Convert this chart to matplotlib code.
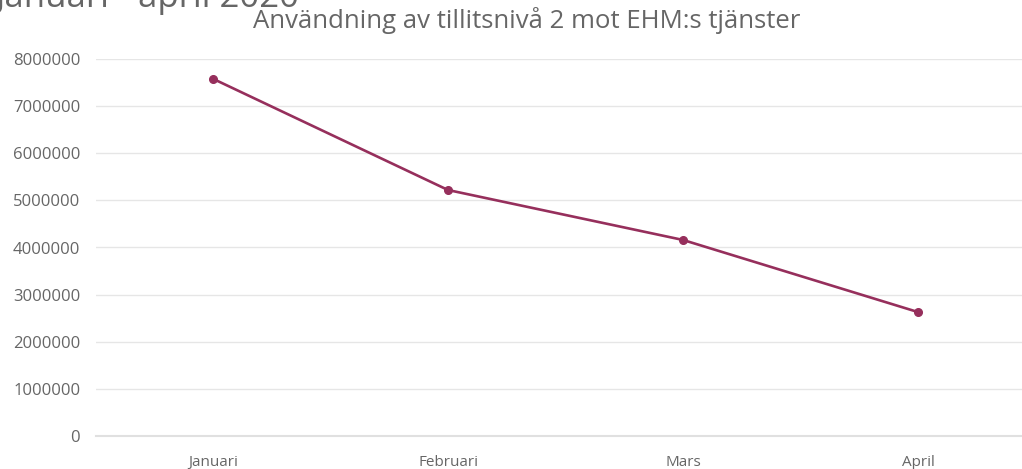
import matplotlib
matplotlib.use("Agg")
import matplotlib.pyplot as plt

months = ["Januari", "Februari", "Mars", "April"]
values = [7580000, 5220000, 4160000, 2630000]
y_ticks = [0, 1000000, 2000000, 3000000, 4000000, 5000000, 6000000, 7000000, 8000000]

plt.rcParams['font.family'] = ['Open Sans', 'DejaVu Sans']

fig = plt.figure(figsize=(10.22, 4.69), dpi=100)
ax = fig.add_axes([95.5/1022, 1-436/469, 940/1022, 377/469])

x = list(range(len(months)))
ax.plot(x, values, color="#962f5c", linewidth=1.9, marker="o", markersize=5.5, zorder=3)

ax.set_xlim(-0.5, 3.5)
ax.set_ylim(0, 8000000)
ax.set_yticks(y_ticks)
ax.set_yticklabels([str(v) for v in y_ticks])
ax.set_xticks(x)
ax.set_xticklabels(months)
ax.grid(axis="y", color="#e6e6e6", linewidth=1)
ax.set_axisbelow(True)
for s in ["top", "right", "left"]:
    ax.spines[s].set_visible(False)
ax.spines["bottom"].set_color("#e0e0e0")
ax.spines["bottom"].set_linewidth(1.5)
ax.tick_params(axis="both", length=0, colors="#666666")
ax.tick_params(axis="y", pad=11, labelsize=12)
ax.tick_params(axis="x", pad=14, labelsize=11)

fig.text(527/1022, 1-21/469, "Användning av tillitsnivå 2 mot EHM:s tjänster",
         ha="center", va="center", fontsize=18.5, color="#666666")
fig.text(-4/1022, 1+2/469, "Januari - april 2020", ha="left", va="center",
         fontsize=25, color="#666666")

fig.savefig("out.png", dpi=100)
